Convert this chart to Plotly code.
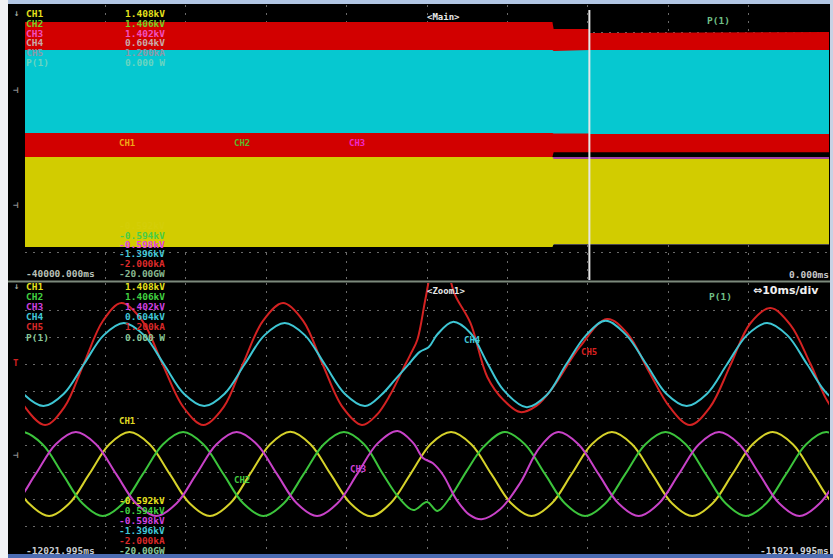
import plotly.graph_objects as go

# ---------------- data (display divisions, 10 div per panel) ----------------
# Main (overview) panel: envelopes of each channel, time in ms
main_t = [-40000, -13760, -13700, -11930, -11915, 0]
ch5_env_hi = [9.38, 9.38, 9.13, 9.13, 8.98, 9.02]
ch5_env_lo = [4.47, 4.47, 4.65, 4.65, 4.65, 4.65]
ch4_env_hi = [8.36, 8.36, 8.33, 8.36, 8.36, 8.36]
ch4_env_lo = [5.35, 5.35, 5.33, 5.33, 5.31, 5.31]
ch3_env_hi = [4.47, 4.47, 4.47, 4.47, 4.47, 4.47]
ch3_env_lo = [1.25, 1.25, 1.29, 1.29, 1.29, 1.29]
ch2_env_hi = [4.45, 4.45, 4.38, 4.38, 4.38, 4.38]
ch2_env_lo = [1.22, 1.22, 1.30, 1.30, 1.30, 1.30]
ch1_env_hi = [4.47, 4.47, 4.40, 4.40, 4.40, 4.40]
ch1_env_lo = [1.20, 1.20, 1.31, 1.31, 1.31, 1.31]
cursor_t = -11921.995

# Zoom panel: sampled points, time as ms offset from window start
zoom_start = -12021.995
zoom_end = -11921.995

ch1_t = [-2, 0.5, 3, 5.5, 8, 10.5, 13, 15.5, 18, 20.5, 23, 25.5, 28, 30.5, 33, 35.5, 38, 40.5,
         43, 45.5, 48, 50.5, 53, 55.5, 58, 60.5, 63, 65.5, 68, 70.5, 73, 75.5, 78, 80.5, 83,
         85.5, 88, 90.5, 93, 95.5, 98, 100.5, 103]
ch1_v = [2.93, 1.83, 1.37, 1.83, 2.93, 4.03, 4.48, 4.03, 2.93, 1.83, 1.37, 1.83, 2.93, 4.03,
         4.49, 4.03, 2.93, 1.83, 1.36, 1.85, 2.95, 4.05, 4.48, 4.03, 2.93, 1.83, 1.37, 1.83,
         2.93, 4.03, 4.48, 4.03, 2.93, 1.83, 1.37, 1.83, 2.93, 4.03, 4.48, 4.03, 2.93, 1.83, 1.37]

ch2_t = [-5.33, -2.83, -0.33, 2.17, 4.67, 7.17, 9.67, 12.17, 14.67, 17.17, 19.67, 22.17, 24.67,
         27.17, 29.67, 32.17, 34.67, 37.17, 39.67, 42.17, 44.5, 46.5, 48.3, 50.0, 51.3, 52.9,
         55.0, 57.0, 59.67, 62.17, 64.67, 67.17, 69.67, 72.17, 74.67, 77.17, 79.67, 82.17,
         84.67, 87.17, 89.67, 92.17, 94.67, 97.17, 99.67, 102.17]
ch2_v = [2.93, 4.03, 4.48, 4.03, 2.93, 1.83, 1.37, 1.83, 2.93, 4.03, 4.48, 4.03, 2.93,
         1.83, 1.37, 1.83, 2.93, 4.03, 4.48, 4.03, 2.93, 2.05, 1.59, 1.89, 1.56, 2.07,
         3.07, 3.92, 4.48, 4.03, 2.93, 1.83, 1.37, 1.83, 2.93, 4.03, 4.48, 4.03,
         2.93, 1.83, 1.37, 1.83, 2.93, 4.03, 4.48, 4.03]

ch3_t = [-3.67, -1.17, 1.33, 3.83, 6.33, 8.83, 11.33, 13.83, 16.33, 18.83, 21.33, 23.83, 26.33,
         28.83, 31.33, 33.83, 36.33, 38.83, 41.33, 43.83, 46.33, 48.3, 49.5, 50.7, 52.0, 53.7,
         55.3, 56.8, 59.1, 61.6, 64.0, 66.33, 68.83, 71.33, 73.83, 76.33, 78.83, 81.33, 83.83,
         86.33, 88.83, 91.33, 93.83, 96.33, 98.83, 101.33]
ch3_v = [1.37, 1.83, 2.93, 4.03, 4.48, 4.03, 2.93, 1.83, 1.37, 1.83, 2.93, 4.03, 4.48,
         4.03, 2.93, 1.83, 1.37, 1.83, 2.93, 4.05, 4.52, 4.07, 3.52, 3.33, 2.89, 1.96,
         1.41, 1.25, 1.62, 2.60, 3.90, 4.48, 4.03, 2.93, 1.83, 1.37, 1.83, 2.93, 4.03,
         4.48, 4.03, 2.93, 1.83, 1.37, 1.83, 2.93]

ch4_t = [-2.7, -0.2, 2.3, 4.8, 7.3, 9.8, 12.3, 14.8, 17.3, 19.8, 22.3, 24.8, 27.3, 29.8, 32.3,
         34.8, 37.3, 39.8, 42.3, 44.3, 46.0, 47.6, 49.1, 50.2, 51.3, 53.2, 55.4, 57.5, 59.5,
         62.4, 64.9, 67.3, 69.8, 72.2, 74.8, 77.3, 79.8, 82.3, 84.8, 87.3, 89.8, 92.3, 94.8,
         97.3, 99.8, 102.3]
ch4_v = [6.98, 5.89, 5.44, 5.89, 6.98, 8.07, 8.52, 8.07, 6.98, 5.89, 5.44, 5.89, 6.98, 8.07, 8.52,
         8.07, 6.98, 5.89, 5.44, 5.85, 6.41, 6.95, 7.45, 7.62, 8.10, 8.56, 8.15, 7.04, 6.04,
         5.40, 5.85, 6.98, 8.07, 8.60, 8.07, 6.98, 5.89, 5.44, 5.89, 6.98, 8.07, 8.52, 8.07,
         6.98, 5.89, 5.44]

ch5_t = [-2.5, 0.0, 2.5, 4.9, 7.3, 9.7, 12.0, 14.6, 17.1, 19.7, 22.2, 24.7, 27.1, 29.6, 32.1,
         34.6, 37.0, 39.5, 41.9, 43.7, 45.4, 47.0, 47.9, 48.8, 49.8, 50.6, 51.6, 52.5, 53.5,
         55.4, 57.5, 59.5, 61.6, 63.6, 65.7, 69.0, 72.4, 75.0, 77.5, 80.2, 82.7, 85.2, 87.7,
         90.2, 92.7, 95.2, 97.7, 100.2, 102.7]
ch5_v = [7.00, 5.40, 4.74, 5.40, 7.00, 8.60, 9.26, 8.60, 7.00, 5.40, 4.74, 5.40, 7.00, 8.60, 9.26,
         8.60, 7.00, 5.40, 4.74, 5.10, 5.85, 6.80, 7.33, 7.90, 9.40, 10.5, 11.0, 10.5, 9.55,
         8.52, 6.52, 5.67, 5.22, 5.45, 6.15, 7.63, 8.67, 8.10, 6.78, 5.40, 4.74, 5.40, 6.93,
         8.50, 9.07, 8.45, 7.00, 5.45, 4.90]

# readouts
ch_names = ["CH1", "CH2", "CH3", "CH4", "CH5", "P(1)"]
ch_top = ["1.408kV", "1.406kV", "1.402kV", "0.604kV", "1.200kA", "0.000 W"]
ch_bot = ["-0.592kV", "-0.594kV", "-0.598kV", "-1.396kV", "-2.000kA", "-20.00GW"]

# ---------------- styling ----------------
W, H = 833, 558
L, R, T, B = 25, 829, 5, 553
MONO = "DejaVu Sans Mono"

COL = {
    "y": "#d6d22a", "g": "#3cc43c", "m": "#c842c8", "c": "#3ec6d4", "r": "#d42222",
}
FILL = {"r": "#d20000", "c": "#06c8d0", "y": "#d2cc00", "m": "#a040a8", "g": "#40c040"}


def px(x):
    return (x - L) / (R - L)


def py(y):
    return (B - y) / (B - T)


fig = go.Figure()


def env(t, hi, lo, color, name):
    fig.add_trace(go.Scatter(
        x=t + t[::-1], y=hi + lo[::-1], fill="toself", fillcolor=color,
        mode="lines", line=dict(width=0, color=color), name=name,
        hoverinfo="skip", xaxis="x", yaxis="y"))


env(main_t, ch5_env_hi, ch5_env_lo, FILL["r"], "CH5")
env(main_t, ch4_env_hi, ch4_env_lo, FILL["c"], "CH4")
env(main_t, ch3_env_hi, ch3_env_lo, FILL["m"], "CH3")
env(main_t, ch2_env_hi, ch2_env_lo, FILL["g"], "CH2")
env(main_t, ch1_env_hi, ch1_env_lo, FILL["y"], "CH1")


def wave(toff, v, color, name):
    fig.add_trace(go.Scatter(
        x=[zoom_start + t for t in toff], y=v, mode="lines",
        line=dict(color=color, width=2, shape="spline", smoothing=1.0),
        name=name, xaxis="x2", yaxis="y2"))


wave(ch1_t, ch1_v, COL["y"], "CH1")
wave(ch2_t, ch2_v, COL["g"], "CH2")
wave(ch3_t, ch3_v, COL["m"], "CH3")
wave(ch5_t, ch5_v, COL["r"], "CH5")
wave(ch4_t, ch4_v, COL["c"], "CH4")

grid = dict(showgrid=True, gridcolor="#6a6a6a", griddash="2px,6px", gridwidth=1,
            zeroline=False, showticklabels=False, ticks="", showline=False, fixedrange=True)

y_split_top = py(280)
y_split_bot = py(283)

fig.update_layout(
    width=W, height=H, margin=dict(l=L, r=W - R, t=T, b=H - B),
    paper_bgcolor="#000000", plot_bgcolor="#000000", showlegend=False,
    xaxis=dict(domain=[0, 1], range=[-40000, 0], dtick=4000, tick0=-40000, anchor="y", **grid),
    yaxis=dict(domain=[y_split_top, 1], range=[0, 10], dtick=1, anchor="x", **grid),
    xaxis2=dict(domain=[0, 1], range=[zoom_start, zoom_end], dtick=10, tick0=zoom_start,
                anchor="y2", **grid),
    yaxis2=dict(domain=[0, y_split_bot], range=[0, 10], dtick=1, anchor="x2", **grid),
)

shapes = []
# cursor
shapes.append(dict(type="line", xref="x", yref="paper", x0=cursor_t, x1=cursor_t,
                   y0=py(280), y1=py(10), line=dict(color="#e6e6e6", width=2)))
# separator
shapes.append(dict(type="line", xref="paper", yref="paper", x0=px(8), x1=px(833),
                   y0=py(281.5), y1=py(281.5), line=dict(color="#7c8a7c", width=2)))
# frame pieces
shapes.append(dict(type="rect", xref="paper", yref="paper", x0=px(0), x1=px(833),
                   y0=py(4), y1=py(-1), fillcolor="#b2c6e4", line=dict(width=0)))
shapes.append(dict(type="rect", xref="paper", yref="paper", x0=px(-1), x1=px(8),
                   y0=py(559), y1=py(0), fillcolor="#f2f3f6", line=dict(width=0)))
shapes.append(dict(type="rect", xref="paper", yref="paper", x0=px(8), x1=px(834),
                   y0=py(559), y1=py(554), fillcolor="#4c6cb2", line=dict(width=0)))
shapes.append(dict(type="rect", xref="paper", yref="paper", x0=px(830), x1=px(834),
                   y0=py(554), y1=py(0), fillcolor="#c8d2e4", line=dict(width=0)))
fig.update_layout(shapes=shapes)

ann = []


def txt(x, y, s, color, anchor="left", size=9.5, family=MONO, bold=True):
    ann.append(dict(x=px(x), y=py(y), xref="paper", yref="paper", text=("<b>%s</b>" % s) if bold else s,
                    showarrow=False, xanchor=anchor, yanchor="middle", borderpad=0,
                    font=dict(family=family, size=size, color=color)))


# main panel readouts (as they appear over the filled envelopes)
main_lab_col = ["#e4e01c", "#7ccc22", "#f050c0", "#c8aaaa", "#8a9aa8", "#6ad4c0"]
main_top_rows = [14, 23.7, 33.3, 43, 52.7, 62.4]
for n, v, c, yy in zip(ch_names, ch_top, main_lab_col, main_top_rows):
    txt(25, yy, n, c)
    txt(166, yy, v, c, anchor="right")
main_bot_col = ["#d4ce08", "#48cc48", "#e040e0", "#46c8d8", "#dc2a2a", "#88b890"]
main_bot_rows = [225.5, 235, 244.3, 253.6, 263, 273]
for v, c, yy in zip(ch_bot, main_bot_col, main_bot_rows):
    txt(166, yy, v, c, anchor="right")
txt(25, 273, "-40000.000ms", "#b8c0b8")
txt(830, 274, "0.000ms", "#c8c8c8", anchor="right")
txt(426, 17, "&lt;Main&gt;", "#e8e8e8", size=9)
txt(706, 21, "P(1)", "#70c088")
txt(127, 143, "CH1", "#f0a818", anchor="center", size=9)
txt(242, 143, "CH2", "#5cb828", anchor="center", size=9)
txt(357, 143, "CH3", "#f028c8", anchor="center", size=9)

# zoom panel readouts
zoom_lab_col = ["#e4e01c", "#40d040", "#d040e0", "#40c8d8", "#d82828", "#88c898"]
zoom_top_rows = [286, 296, 306, 316.5, 326.7, 337]
for n, v, c, yy in zip(ch_names, ch_top, zoom_lab_col, zoom_top_rows):
    txt(25, yy, n, c)
    txt(166, yy, v, c, anchor="right")
zoom_bot_rows = [500, 510.5, 520.7, 530.7, 540.7, 550]
for v, c, yy in zip(ch_bot, zoom_lab_col, zoom_bot_rows):
    txt(166, yy, v, c, anchor="right")
txt(25, 550, "-12021.995ms", "#c8ccd0")
txt(830, 550, "-11921.995ms", "#d0d4d8", anchor="right")
txt(426, 291, "&lt;Zoom1&gt;", "#e8e8e8", size=9)
txt(708, 296, "P(1)", "#70c088")
txt(820, 290, "⇔10ms/div", "#f0f0f0", anchor="right", size=11, family="DejaVu Sans")
txt(127, 421, "CH1", "#e0dc20", anchor="center", size=9)
txt(242, 480, "CH2", "#40cc40", anchor="center", size=9)
txt(358, 469, "CH3", "#d040d8", anchor="center", size=9)
txt(472, 340, "CH4", "#40c8d8", anchor="center", size=9)
txt(589, 352, "CH5", "#d82020", anchor="center", size=9)

# left strip markers
txt(16, 13, "↓", "#a0a8a0", anchor="center", size=9)
txt(16, 90, "⊣", "#8a8a8a", anchor="center", size=9)
txt(16, 205, "⊣", "#8a8a8a", anchor="center", size=9)
txt(16, 286, "↓", "#a0a8a0", anchor="center", size=9)
txt(16, 363, "T", "#d02020", anchor="center", size=9)
txt(16, 455, "⊣", "#8a8a8a", anchor="center", size=9)

fig.update_layout(annotations=ann)
fig.write_html("out.html", config={"displayModeBar": False, "staticPlot": True},
               post_script="document.body.style.margin='0';document.body.style.overflow='hidden';")
